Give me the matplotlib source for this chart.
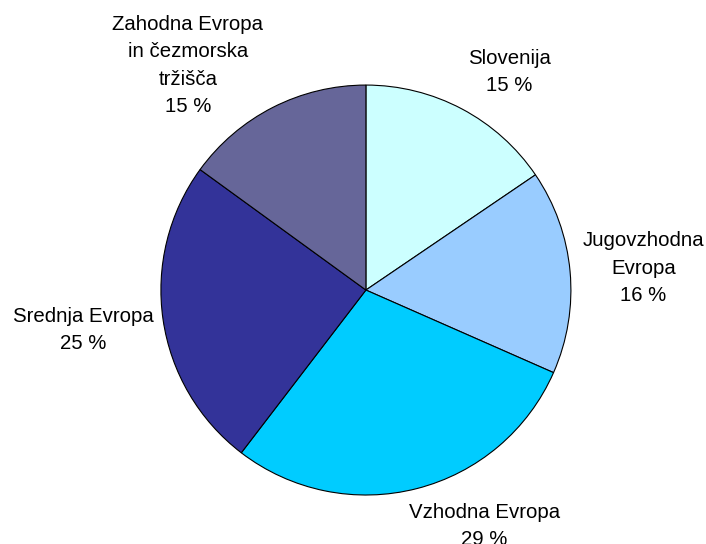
import matplotlib
matplotlib.use("Agg")
import matplotlib.pyplot as plt

categories = ["Slovenija", "Jugovzhodna\nEvropa", "Vzhodna Evropa",
              "Srednja Evropa", "Zahodna Evropa\nin čezmorska\ntržišča"]
values = [15.5, 16.1, 28.8, 24.6, 15.0]
pct_labels = ["15 %", "16 %", "29 %", "25 %", "15 %"]
colors = ["#CCFFFF", "#99CCFF", "#00CCFF", "#333399", "#666699"]

# label placement (data units, pie radius = 1)
label_pos = [(0.698, 1.063), (1.354, 0.107), (0.578, -1.151), (-1.378, -0.195), (-0.868, 1.095)]

plt.rcParams['font.family'] = ['Liberation Sans', 'DejaVu Sans']

fig = plt.figure(figsize=(7.06, 5.44), dpi=100)
ax = fig.add_axes([0, 0, 1, 1])
wedges, _ = ax.pie(values, colors=colors, startangle=90, counterclock=False,
                   radius=1.0, center=(0, 0),
                   wedgeprops=dict(edgecolor="black", linewidth=0.8))
for cat, pct, (x, y) in zip(categories, pct_labels, label_pos):
    ax.text(x, y, f"{cat}\n{pct}", ha="center", va="center", fontsize=14.7,
            linespacing=1.56, color="black")

ax.set_aspect("auto")
ax.set_xlim(-1.785, 1.659)
ax.set_ylim(-1.239, 1.415)
ax.axis("off")
fig.savefig("out.png", dpi=100, facecolor="white")
